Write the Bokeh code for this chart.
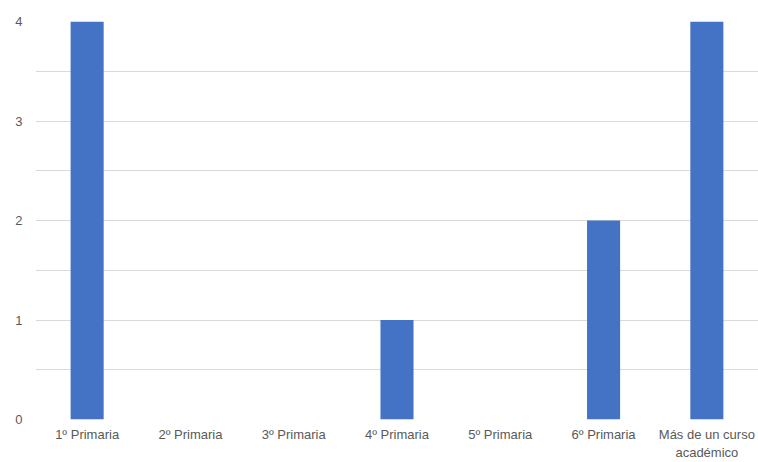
from bokeh.plotting import figure
from bokeh.models import ColumnDataSource, FixedTicker, Range1d, FactorRange
from bokeh.embed import file_html
from bokeh.resources import INLINE

categories = ["1º Primaria", "2º Primaria", "3º Primaria", "4º Primaria",
              "5º Primaria", "6º Primaria", "Más de un curso\nacadémico"]
counts = [4, 0, 0, 1, 0, 2, 4]
y_ticks = [0, 1, 2, 3, 4]
y_minor = [0.5, 1.5, 2.5, 3.5]

source = ColumnDataSource(data=dict(cat=categories, count=counts))

p = figure(
    x_range=FactorRange(*categories, range_padding=0),
    y_range=Range1d(0, 4),
    width=758, height=462,
    min_border_left=35, min_border_right=0,
    min_border_top=21, min_border_bottom=41,
    output_backend="svg", toolbar_location=None,
)

p.vbar(x="cat", top="count", width=0.32, source=source,
       fill_color="#4472C4", line_color=None)

p.outline_line_color = None
p.xgrid.grid_line_color = None
p.ygrid.grid_line_color = "#d9d9d9"
p.ygrid.minor_grid_line_color = "#d9d9d9"
p.yaxis.ticker = FixedTicker(ticks=y_ticks, minor_ticks=y_minor)

for ax in (p.xaxis[0], p.yaxis[0]):
    ax.axis_line_color = None
    ax.major_tick_line_color = None
    ax.minor_tick_line_color = None
    ax.major_tick_in = 0
    ax.major_tick_out = 0
    ax.minor_tick_in = 0
    ax.minor_tick_out = 0
    ax.major_label_text_color = "#595959"
    ax.major_label_text_font = "Liberation Sans"
    ax.major_label_text_font_size = "13px"

p.xaxis.major_label_text_line_height = 1.2
p.xaxis.major_label_standoff = 7
p.yaxis.major_label_standoff = 13

open("out.html", "w").write(file_html(p, INLINE))
